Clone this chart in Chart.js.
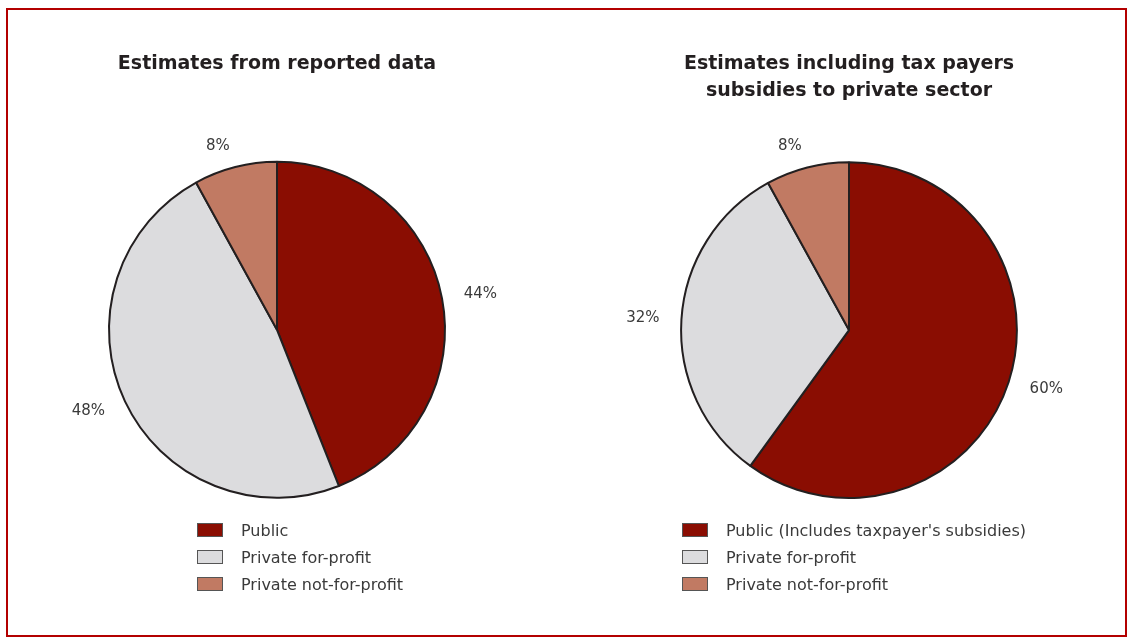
<!DOCTYPE html>
<html>
<head>
<meta charset="utf-8">
<script src="https://cdn.jsdelivr.net/npm/chart.js@4.4.0/dist/chart.umd.min.js"></script>
<style>
  body { margin: 0; background: #fff; font-family: "DejaVu Sans", sans-serif; }
  #page { position: relative; width: 1133px; height: 644px; overflow: hidden; }
  #frame { position: absolute; left: 6px; top: 8px; width: 1117px; height: 625px; border: 2px solid #b30000; }
  .pie { position: absolute; top: 0; width: 566px; height: 644px; }
  .legend { position: absolute; font-size: 16px; color: #3a3a3a; }
  .legend div { height: 27px; line-height: 27px; white-space: nowrap; }
  .legend span { display: inline-block; width: 24px; height: 12px; border: 1px solid #555; vertical-align: -1px; margin-right: 18px; }
</style>
</head>
<body>
<div id="page">
  <div id="frame"></div>
  <canvas id="left" class="pie" width="566" height="644" style="left:0"></canvas>
  <canvas id="right" class="pie" width="566" height="644" style="left:572px"></canvas>
  <div id="legendLeft" class="legend" style="left:197px; top:517px"></div>
  <div id="legendRight" class="legend" style="left:682px; top:517px"></div>
</div>
<script>
// data
const leftTitle = 'Estimates from reported data';
const rightTitle = ['Estimates including tax payers', 'subsidies to private sector'];
const leftLabels = ['Public', 'Private for-profit', 'Private not-for-profit'];
const rightLabels = ["Public (Includes taxpayer's subsidies)", 'Private for-profit', 'Private not-for-profit'];
const leftValues = [44, 48, 8];
const rightValues = [60, 32, 8];
const colors = ['#8a0d02', '#dcdcde', '#c17a63'];

// percent labels outside each slice
const outsideLabels = {
    id: 'outsideLabels',
    afterDatasetsDraw(chart) {
        const ctx = chart.ctx;
        const meta = chart.getDatasetMeta(0);
        const values = chart.data.datasets[0].data;
        ctx.save();
        ctx.font = '15px "DejaVu Sans", sans-serif';
        ctx.fillStyle = '#3a3a3a';
        ctx.textBaseline = 'middle';
        meta.data.forEach((arc, i) => {
            const p = arc.getProps(['x', 'y', 'startAngle', 'endAngle', 'outerRadius'], true);
            const mid = (p.startAngle + p.endAngle) / 2;
            const r = p.outerRadius + 22;
            const x = p.x + Math.cos(mid) * r;
            const y = p.y + Math.sin(mid) * r;
            const c = Math.cos(mid);
            ctx.textAlign = c > 0.2 ? 'left' : (c < -0.2 ? 'right' : 'center');
            ctx.fillText(values[i] + '%', x, y);
        });
        ctx.restore();
    }
};

function makePie(id, title, labels, values, titlePad) {
    return new Chart(document.getElementById(id), {
        type: 'pie',
        data: {
            labels: labels,
            datasets: [{
                data: values,
                backgroundColor: colors,
                borderColor: '#231f20',
                borderWidth: 2,
                hoverOffset: 0
            }]
        },
        options: {
            responsive: false,
            maintainAspectRatio: false,
            animation: false,
            layout: { padding: { left: 108, right: 120, top: 0, bottom: 145 } },
            plugins: {
                legend: { display: false },
                tooltip: { enabled: false },
                title: {
                    display: true,
                    text: title,
                    color: '#231f20',
                    font: { family: '"DejaVu Sans", sans-serif', size: 19, weight: 'bold', lineHeight: 1.4 },
                    padding: titlePad
                }
            }
        },
        plugins: [outsideLabels]
    });
}

const leftChart = makePie('left', leftTitle, leftLabels, leftValues, { top: 51, bottom: 83 });
const rightChart = makePie('right', rightTitle, rightLabels, rightValues, { top: 51, bottom: 57 });

function buildLegend(chart, el) {
    el.innerHTML = chart.data.labels.map((l, i) =>
        '<div><span style="background:' + colors[i] + '"></span>' + l + '</div>').join('');
}
buildLegend(leftChart, document.getElementById('legendLeft'));
buildLegend(rightChart, document.getElementById('legendRight'));
</script>
</body>
</html>
